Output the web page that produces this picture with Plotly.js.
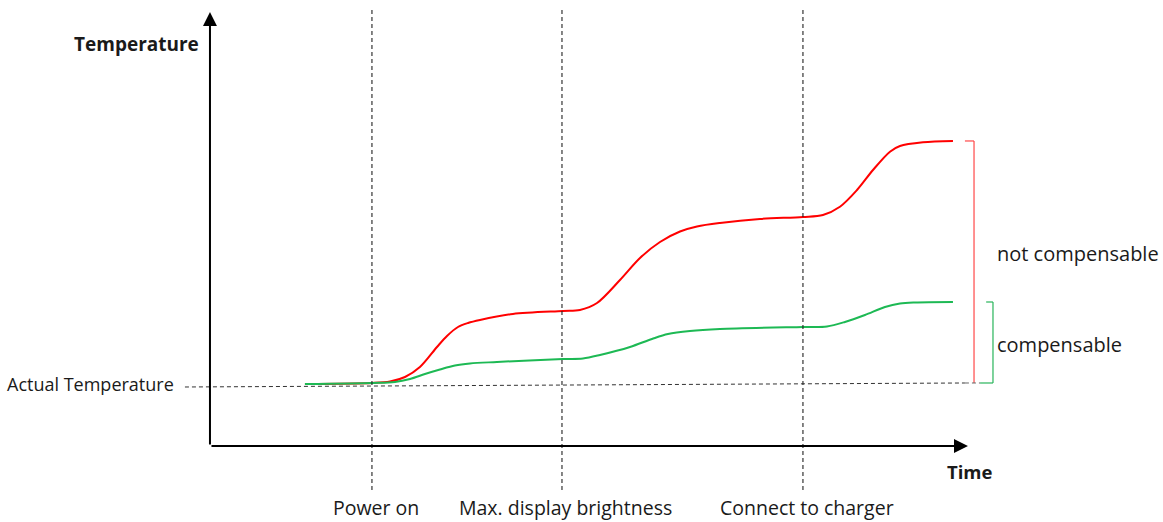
<!DOCTYPE html>
<html>
<head>
<meta charset="utf-8">
<script src="https://cdn.plot.ly/plotly-3.0.1.min.js"></script>
<style>html,body{margin:0;padding:0;background:#fff;}#chart{width:1163px;height:522px;}</style>
</head>
<body>
<div id="chart"></div>
<script>
// Time (arbitrary units) and temperature (arbitrary units)
const time = [12.53, 21.37, 23.75, 25.73, 27.70, 29.95, 31.27, 32.72, 34.04, 35.62, 39.97, 46.57, 48.81, 51.06, 54.09, 56.73, 59.37, 62.01, 64.25, 67.28, 72.56, 78.23, 80.87, 83.11, 85.36, 87.47, 89.71, 91.03, 94.06, 98.02];
const notCompensable = [14.55, 14.79, 15.14, 16.20, 18.54, 23.24, 25.82, 27.93, 28.87, 29.58, 30.99, 31.69, 31.92, 33.57, 38.97, 44.13, 47.89, 50.35, 51.53, 52.35, 53.29, 53.76, 54.23, 56.17, 60.09, 64.79, 69.09, 70.42, 71.29, 71.60];
const timeComp = [12.53, 21.50, 24.41, 26.39, 28.36, 30.34, 32.32, 34.30, 37.86, 46.57, 49.21, 51.45, 55.41, 58.31, 60.42, 63.32, 67.28, 78.23, 81.40, 83.77, 86.41, 89.05, 91.03, 93.00, 98.02];
const compensable = [14.55, 14.79, 15.02, 15.73, 16.90, 17.96, 18.90, 19.37, 19.72, 20.42, 20.54, 21.36, 23.24, 25.12, 26.29, 27.00, 27.46, 27.93, 28.05, 29.11, 30.75, 32.63, 33.45, 33.69, 33.80];
const actualTime = [-3.30, 99.60];
const actualTemp = [13.85, 14.79];
const eventTimes = [21.37, 46.44, 78.23];
const eventLabels = ['Power on', 'Max. display brightness', 'Connect to charger'];
const axisEnd = [100, 101.9];

const W = 1163, H = 522;
const X = p => p / W, Y = p => 1 - p / H;
const FONT = '"Open Sans", "Noto Sans", sans-serif';
const TXT = '#1a1a1a';

const traces = [
  {x: actualTime, y: actualTemp, mode: 'lines', line: {color: '#333', width: 1, dash: '4px,3px'}, hoverinfo: 'skip'},
  {x: time, y: notCompensable, mode: 'lines', line: {color: '#ff0000', width: 2, shape: 'spline', smoothing: 0.9}},
  {x: timeComp, y: compensable, mode: 'lines', line: {color: '#1db954', width: 2, shape: 'spline', smoothing: 0.9}}
];

const redTop = notCompensable[notCompensable.length - 1];
const greenTop = compensable[compensable.length - 1];
const base = actualTemp[1];

const shapes = [];
eventTimes.forEach(t => shapes.push({type: 'line', xref: 'x', yref: 'y', x0: t, x1: t, y0: 102.35, y1: -10.33, line: {color: '#222', width: 1.1, dash: '4px,3px'}}));
// red bracket
const rc = 'rgba(255,60,60,0.75)';
shapes.push({type: 'line', xref: 'x', yref: 'y', x0: 99.6, x1: 100.8, y0: redTop, y1: redTop, line: {color: rc, width: 1.5}});
shapes.push({type: 'line', xref: 'x', yref: 'y', x0: 100.8, x1: 100.8, y0: redTop, y1: base, line: {color: rc, width: 1.5}});
// green bracket
const gc = 'rgba(40,180,90,0.8)';
shapes.push({type: 'line', xref: 'x', yref: 'y', x0: 102.4, x1: 103.3, y0: greenTop, y1: greenTop, line: {color: gc, width: 1.5}});
shapes.push({type: 'line', xref: 'x', yref: 'y', x0: 103.3, x1: 103.3, y0: greenTop, y1: base, line: {color: gc, width: 1.5}});
shapes.push({type: 'line', xref: 'x', yref: 'y', x0: 101.6, x1: 103.3, y0: base, y1: base, line: {color: gc, width: 1.5}});
shapes.push({type: 'line', xref: 'x', yref: 'y', x0: 99.6, x1: 101.6, y0: base, y1: base, line: {color: '#666', width: 1, dash: '4px,3px'}});

const A = (px, py, text, size, xanchor) => ({x: X(px), y: Y(py), xref: 'paper', yref: 'paper', xanchor: xanchor || 'center', yanchor: 'middle', text: text, showarrow: false, font: {family: FONT, size: size, color: TXT}});

const annotations = [
  // y axis arrow
  {x: 0, y: axisEnd[1], xref: 'x', yref: 'y', ax: 0, ay: 434, axref: 'pixel', ayref: 'pixel', text: '', showarrow: true, arrowhead: 2, arrowsize: 1.4, arrowwidth: 2, arrowcolor: '#000'},
  // x axis arrow
  {x: axisEnd[0], y: 0, xref: 'x', yref: 'y', ax: -758, ay: 0, text: '', showarrow: true, arrowhead: 2, arrowsize: 1.4, arrowwidth: 2, arrowcolor: '#000'},
  A(136, 44, '<b>Temperature</b>', 19),
  A(970, 471, '<b>Time</b>', 18.5),
  A(176, 384, 'Actual Temperature', 18, 'right'),
  A(995, 253, 'not compensable', 20, 'left'),
  A(995, 344, 'compensable', 20, 'left')
];
eventTimes.forEach((t, i) => annotations.push({x: t, y: Y(507), xref: 'x', yref: 'paper', xanchor: 'center', yanchor: 'middle', xshift: 4, text: eventLabels[i], showarrow: false, font: {family: FONT, size: 19.5, color: TXT}}));

const layout = {
  width: W, height: H,
  margin: {l: 0, r: 0, t: 0, b: 0},
  paper_bgcolor: '#fff', plot_bgcolor: '#fff',
  showlegend: false,
  xaxis: {range: [-27.70, 125.73], visible: false, fixedrange: true},
  yaxis: {range: [-17.84, 104.69], visible: false, fixedrange: true},
  shapes: shapes,
  annotations: annotations
};
Plotly.newPlot('chart', traces, layout, {displayModeBar: false, staticPlot: true});
</script>
</body>
</html>
